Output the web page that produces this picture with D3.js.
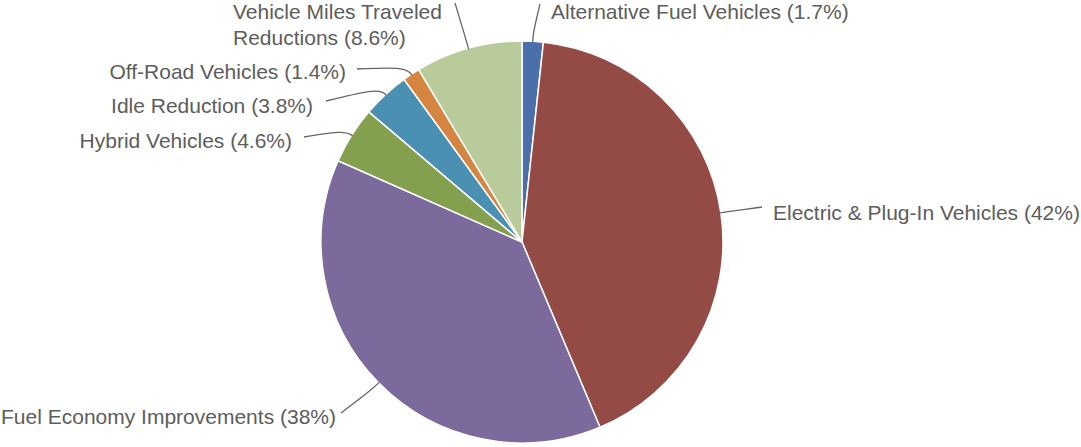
<!DOCTYPE html>
<html>
<head>
<meta charset="utf-8">
<script src="https://cdn.jsdelivr.net/npm/d3@7"></script>
<style>
  body { margin: 0; background: #fff; }
  .lbl { font-family: "Liberation Sans", Arial, sans-serif; font-size: 21px; fill: #5d5d5d; }
</style>
</head>
<body>
<div id="content"></div>
<script>
var Width = 1081;
var Height = 447;

// data, clockwise from 12 o'clock
var categories = [
  "Alternative Fuel Vehicles",
  "Electric & Plug-In Vehicles",
  "Fuel Economy Improvements",
  "Hybrid Vehicles",
  "Idle Reduction",
  "Off-Road Vehicles",
  "Vehicle Miles Traveled Reductions"
];
var shares = [1.7, 42, 38, 4.6, 3.8, 1.4, 8.6];
var shareText = ["1.7%", "42%", "38%", "4.6%", "3.8%", "1.4%", "8.6%"];
var colors = ["#4b6fab", "#944b45", "#7c6a9c", "#82a04e", "#4a90b2", "#d5853f", "#b9ca9b"];

// label layout (anchor point, alignment, connector end)
var labelPos = [
  { x: 551, y: 12, anchor: "start", end: [540, 4] },
  { x: 773, y: 213, anchor: "start", end: [762, 207] },
  { x: 336, y: 417, anchor: "end", end: [341, 413] },
  { x: 292, y: 141, anchor: "end", end: [304, 137] },
  { x: 313, y: 106, anchor: "end", end: [326, 101] },
  { x: 346, y: 72, anchor: "end", end: [357, 69] },
  { x: 233, y: 12, anchor: "start", end: [455, 3], lines: ["Vehicle Miles Traveled", "Reductions (8.6%)"] }
];

var cx = 522, cy = 242, radius = 201;

var svg = d3
  .select("#content")
  .append("svg")
  .attr("width", Width)
  .attr("height", Height);

var pie = d3.pie().sort(null).value(function (d) { return d; });
var arcs = pie(shares);

var arc = d3.arc().innerRadius(0).outerRadius(radius);

var g = svg.append("g").attr("transform", "translate(" + cx + "," + cy + ")");

g.selectAll("path.slice")
  .data(arcs)
  .enter()
  .append("path")
  .attr("class", "slice")
  .attr("d", arc)
  .attr("fill", function (d, i) { return colors[i]; })
  .attr("stroke", "#fff")
  .attr("stroke-width", 1.5)
  .attr("stroke-linejoin", "round");

// connectors
var connector = d3.line().curve(d3.curveBasis);
function polar(a, r) {
  return [cx + r * Math.sin(a), cy - r * Math.cos(a)];
}
svg.selectAll("path.conn")
  .data(arcs)
  .enter()
  .append("path")
  .attr("class", "conn")
  .attr("fill", "none")
  .attr("stroke", "#666")
  .attr("stroke-width", 1.3)
  .attr("d", function (d, i) {
    var mid = (d.startAngle + d.endAngle) / 2;
    var p0 = polar(mid, radius - 1);
    var p1 = polar(mid, radius + 9);
    var p2 = labelPos[i].end;
    return connector([p0, p0, p1, p2, p2]);
  });

// labels
svg.selectAll("text.lbl")
  .data(arcs)
  .enter()
  .append("text")
  .attr("class", "lbl")
  .attr("text-anchor", function (d, i) { return labelPos[i].anchor; })
  .each(function (d, i) {
    var t = d3.select(this);
    var lp = labelPos[i];
    var lines = lp.lines || [categories[i] + " (" + shareText[i] + ")"];
    lines.forEach(function (s, k) {
      t.append("tspan")
        .attr("x", lp.x)
        .attr("y", lp.y + k * 26)
        .attr("dy", "0.35em")
        .text(s);
    });
  });
</script>
</body>
</html>
